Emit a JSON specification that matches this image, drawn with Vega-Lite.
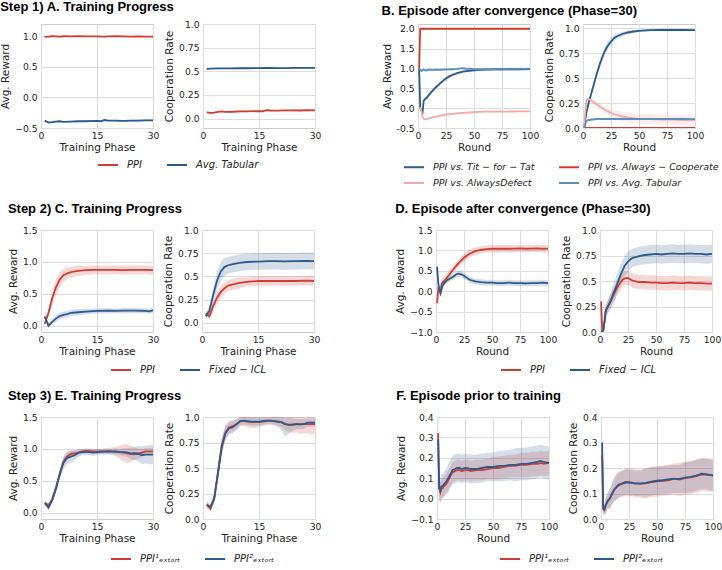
{
"$schema": "https://vega.github.io/schema/vega-lite/v6.json",
"padding": {"left": 0, "top": 0, "right": 0, "bottom": 0},
"datasets": {
"A1": [
{"s":"P","x":1,"y":0.99,"lo":0.98,"hi":1.0},{"s":"P","x":2,"y":0.995,"lo":0.985,"hi":1.005},{"s":"P","x":3,"y":1.0,"lo":0.99,"hi":1.01},{"s":"P","x":4,"y":0.998,"lo":0.988,"hi":1.008},{"s":"P","x":5,"y":0.995,"lo":0.985,"hi":1.005},{"s":"P","x":6,"y":1.0,"lo":0.99,"hi":1.01},{"s":"P","x":8,"y":0.998,"lo":0.988,"hi":1.008},{"s":"P","x":10,"y":1.0,"lo":0.99,"hi":1.01},{"s":"P","x":12,"y":0.998,"lo":0.988,"hi":1.008},{"s":"P","x":15,"y":0.998,"lo":0.988,"hi":1.008},{"s":"P","x":17,"y":0.995,"lo":0.985,"hi":1.005},{"s":"P","x":18,"y":0.998,"lo":0.988,"hi":1.008},{"s":"P","x":20,"y":1.0,"lo":0.99,"hi":1.01},{"s":"P","x":22,"y":0.998,"lo":0.988,"hi":1.008},{"s":"P","x":24,"y":0.995,"lo":0.985,"hi":1.005},{"s":"P","x":26,"y":0.998,"lo":0.988,"hi":1.008},{"s":"P","x":28,"y":0.995,"lo":0.985,"hi":1.005},{"s":"P","x":30,"y":0.995,"lo":0.985,"hi":1.005},
{"s":"T","x":1,"y":-0.38,"lo":-0.392,"hi":-0.368},{"s":"T","x":2,"y":-0.41,"lo":-0.422,"hi":-0.398},{"s":"T","x":3,"y":-0.405,"lo":-0.417,"hi":-0.393},{"s":"T","x":4,"y":-0.395,"lo":-0.407,"hi":-0.383},{"s":"T","x":5,"y":-0.39,"lo":-0.402,"hi":-0.378},{"s":"T","x":6,"y":-0.4,"lo":-0.412,"hi":-0.388},{"s":"T","x":8,"y":-0.395,"lo":-0.407,"hi":-0.383},{"s":"T","x":10,"y":-0.39,"lo":-0.402,"hi":-0.378},{"s":"T","x":12,"y":-0.39,"lo":-0.402,"hi":-0.378},{"s":"T","x":15,"y":-0.385,"lo":-0.397,"hi":-0.373},{"s":"T","x":16,"y":-0.39,"lo":-0.402,"hi":-0.378},{"s":"T","x":17,"y":-0.37,"lo":-0.382,"hi":-0.358},{"s":"T","x":18,"y":-0.38,"lo":-0.392,"hi":-0.368},{"s":"T","x":20,"y":-0.38,"lo":-0.392,"hi":-0.368},{"s":"T","x":22,"y":-0.385,"lo":-0.397,"hi":-0.373},{"s":"T","x":24,"y":-0.38,"lo":-0.392,"hi":-0.368},{"s":"T","x":26,"y":-0.38,"lo":-0.392,"hi":-0.368},{"s":"T","x":28,"y":-0.375,"lo":-0.387,"hi":-0.363},{"s":"T","x":30,"y":-0.375,"lo":-0.387,"hi":-0.363}
],
"A2": [
{"s":"P","x":1,"y":0.065,"lo":0.057,"hi":0.073},{"s":"P","x":2,"y":0.06,"lo":0.052,"hi":0.068},{"s":"P","x":3,"y":0.062,"lo":0.054,"hi":0.07},{"s":"P","x":4,"y":0.07,"lo":0.062,"hi":0.078},{"s":"P","x":5,"y":0.075,"lo":0.067,"hi":0.083},{"s":"P","x":6,"y":0.07,"lo":0.062,"hi":0.078},{"s":"P","x":8,"y":0.072,"lo":0.064,"hi":0.08},{"s":"P","x":10,"y":0.075,"lo":0.067,"hi":0.083},{"s":"P","x":12,"y":0.076,"lo":0.068,"hi":0.084},{"s":"P","x":15,"y":0.078,"lo":0.07,"hi":0.086},{"s":"P","x":16,"y":0.077,"lo":0.069,"hi":0.085},{"s":"P","x":17,"y":0.088,"lo":0.08,"hi":0.096},{"s":"P","x":18,"y":0.085,"lo":0.077,"hi":0.093},{"s":"P","x":20,"y":0.083,"lo":0.075,"hi":0.091},{"s":"P","x":22,"y":0.086,"lo":0.078,"hi":0.094},{"s":"P","x":24,"y":0.086,"lo":0.078,"hi":0.094},{"s":"P","x":26,"y":0.085,"lo":0.077,"hi":0.093},{"s":"P","x":28,"y":0.088,"lo":0.08,"hi":0.096},{"s":"P","x":30,"y":0.087,"lo":0.079,"hi":0.095},
{"s":"T","x":1,"y":0.525,"lo":0.517,"hi":0.533},{"s":"T","x":2,"y":0.528,"lo":0.52,"hi":0.536},{"s":"T","x":4,"y":0.53,"lo":0.522,"hi":0.538},{"s":"T","x":6,"y":0.53,"lo":0.522,"hi":0.538},{"s":"T","x":8,"y":0.531,"lo":0.523,"hi":0.539},{"s":"T","x":10,"y":0.532,"lo":0.524,"hi":0.54},{"s":"T","x":12,"y":0.532,"lo":0.524,"hi":0.54},{"s":"T","x":15,"y":0.533,"lo":0.525,"hi":0.541},{"s":"T","x":17,"y":0.535,"lo":0.527,"hi":0.543},{"s":"T","x":20,"y":0.534,"lo":0.526,"hi":0.542},{"s":"T","x":22,"y":0.533,"lo":0.525,"hi":0.541},{"s":"T","x":24,"y":0.535,"lo":0.527,"hi":0.543},{"s":"T","x":26,"y":0.535,"lo":0.527,"hi":0.543},{"s":"T","x":28,"y":0.536,"lo":0.528,"hi":0.544},{"s":"T","x":30,"y":0.535,"lo":0.527,"hi":0.543}
],
"B1": [
{"s":"T","x":1,"y":1.0,"lo":0.95,"hi":1.05},{"s":"T","x":2,"y":0.0,"lo":-0.05,"hi":0.05},{"s":"T","x":3,"y":-0.05,"lo":-0.1,"hi":0.0},{"s":"T","x":4,"y":-0.15,"lo":-0.2,"hi":-0.1},{"s":"T","x":5,"y":0.18,"lo":0.13,"hi":0.23},{"s":"T","x":6,"y":0.22,"lo":0.17,"hi":0.27},{"s":"T","x":8,"y":0.27,"lo":0.22,"hi":0.32},{"s":"T","x":10,"y":0.34,"lo":0.29,"hi":0.39},{"s":"T","x":12,"y":0.41,"lo":0.36,"hi":0.46},{"s":"T","x":15,"y":0.5,"lo":0.45,"hi":0.55},{"s":"T","x":18,"y":0.58,"lo":0.53,"hi":0.63},{"s":"T","x":20,"y":0.63,"lo":0.58,"hi":0.68},{"s":"T","x":22,"y":0.68,"lo":0.63,"hi":0.73},{"s":"T","x":25,"y":0.75,"lo":0.7,"hi":0.8},{"s":"T","x":28,"y":0.8,"lo":0.76,"hi":0.84},{"s":"T","x":30,"y":0.83,"lo":0.79,"hi":0.87},{"s":"T","x":35,"y":0.88,"lo":0.85,"hi":0.91},{"s":"T","x":40,"y":0.92,"lo":0.89,"hi":0.95},{"s":"T","x":45,"y":0.94,"lo":0.91,"hi":0.97},{"s":"T","x":50,"y":0.955,"lo":0.925,"hi":0.985},{"s":"T","x":55,"y":0.965,"lo":0.935,"hi":0.995},{"s":"T","x":60,"y":0.97,"lo":0.94,"hi":1.0},{"s":"T","x":70,"y":0.975,"lo":0.945,"hi":1.005},{"s":"T","x":80,"y":0.98,"lo":0.95,"hi":1.01},{"s":"T","x":90,"y":0.98,"lo":0.95,"hi":1.01},{"s":"T","x":100,"y":0.985,"lo":0.955,"hi":1.015},
{"s":"C","x":1,"y":1.0,"lo":0.995,"hi":1.005},{"s":"C","x":2,"y":2.0,"lo":1.995,"hi":2.005},{"s":"C","x":25,"y":2.0,"lo":1.995,"hi":2.005},{"s":"C","x":50,"y":2.0,"lo":1.995,"hi":2.005},{"s":"C","x":75,"y":2.0,"lo":1.995,"hi":2.005},{"s":"C","x":100,"y":2.0,"lo":1.995,"hi":2.005},
{"s":"D","x":1,"y":0.0,"lo":-0.02,"hi":0.02},{"s":"D","x":2,"y":0.0,"lo":-0.02,"hi":0.02},{"s":"D","x":3,"y":-0.05,"lo":-0.07,"hi":-0.03},{"s":"D","x":4,"y":-0.22,"lo":-0.24,"hi":-0.2},{"s":"D","x":5,"y":-0.27,"lo":-0.29,"hi":-0.25},{"s":"D","x":6,"y":-0.28,"lo":-0.3,"hi":-0.26},{"s":"D","x":8,"y":-0.27,"lo":-0.29,"hi":-0.25},{"s":"D","x":10,"y":-0.255,"lo":-0.275,"hi":-0.235},{"s":"D","x":12,"y":-0.24,"lo":-0.26,"hi":-0.22},{"s":"D","x":15,"y":-0.22,"lo":-0.24,"hi":-0.2},{"s":"D","x":20,"y":-0.19,"lo":-0.21,"hi":-0.17},{"s":"D","x":25,"y":-0.165,"lo":-0.185,"hi":-0.145},{"s":"D","x":30,"y":-0.145,"lo":-0.165,"hi":-0.125},{"s":"D","x":35,"y":-0.13,"lo":-0.15,"hi":-0.11},{"s":"D","x":40,"y":-0.12,"lo":-0.14,"hi":-0.1},{"s":"D","x":45,"y":-0.11,"lo":-0.13,"hi":-0.09},{"s":"D","x":50,"y":-0.1,"lo":-0.12,"hi":-0.08},{"s":"D","x":60,"y":-0.09,"lo":-0.11,"hi":-0.07},{"s":"D","x":70,"y":-0.085,"lo":-0.105,"hi":-0.065},{"s":"D","x":80,"y":-0.085,"lo":-0.105,"hi":-0.065},{"s":"D","x":90,"y":-0.08,"lo":-0.1,"hi":-0.06},{"s":"D","x":100,"y":-0.08,"lo":-0.1,"hi":-0.06},
{"s":"A","x":1,"y":1.0,"lo":0.97,"hi":1.03},{"s":"A","x":2,"y":0.96,"lo":0.93,"hi":0.99},{"s":"A","x":3,"y":0.94,"lo":0.91,"hi":0.97},{"s":"A","x":5,"y":0.97,"lo":0.94,"hi":1.0},{"s":"A","x":7,"y":0.95,"lo":0.92,"hi":0.98},{"s":"A","x":10,"y":0.97,"lo":0.94,"hi":1.0},{"s":"A","x":13,"y":0.96,"lo":0.93,"hi":0.99},{"s":"A","x":16,"y":0.97,"lo":0.94,"hi":1.0},{"s":"A","x":20,"y":0.965,"lo":0.935,"hi":0.995},{"s":"A","x":25,"y":0.975,"lo":0.945,"hi":1.005},{"s":"A","x":30,"y":0.98,"lo":0.95,"hi":1.01},{"s":"A","x":35,"y":0.99,"lo":0.96,"hi":1.02},{"s":"A","x":38,"y":1.0,"lo":0.97,"hi":1.03},{"s":"A","x":40,"y":1.01,"lo":0.98,"hi":1.04},{"s":"A","x":43,"y":0.99,"lo":0.96,"hi":1.02},{"s":"A","x":46,"y":0.995,"lo":0.965,"hi":1.025},{"s":"A","x":50,"y":0.98,"lo":0.95,"hi":1.01},{"s":"A","x":55,"y":0.985,"lo":0.955,"hi":1.015},{"s":"A","x":60,"y":0.98,"lo":0.95,"hi":1.01},{"s":"A","x":65,"y":0.99,"lo":0.96,"hi":1.02},{"s":"A","x":70,"y":0.985,"lo":0.955,"hi":1.015},{"s":"A","x":75,"y":0.98,"lo":0.95,"hi":1.01},{"s":"A","x":80,"y":0.99,"lo":0.96,"hi":1.02},{"s":"A","x":85,"y":0.985,"lo":0.955,"hi":1.015},{"s":"A","x":90,"y":0.99,"lo":0.96,"hi":1.02},{"s":"A","x":95,"y":0.99,"lo":0.96,"hi":1.02},{"s":"A","x":100,"y":0.995,"lo":0.965,"hi":1.025}
],
"B2": [
{"s":"T","x":1,"y":0.0,"lo":0.0,"hi":0.02},{"s":"T","x":2,"y":0.08,"lo":0.05,"hi":0.11},{"s":"T","x":3,"y":0.15,"lo":0.12,"hi":0.18},{"s":"T","x":5,"y":0.25,"lo":0.22,"hi":0.28},{"s":"T","x":7,"y":0.33,"lo":0.3,"hi":0.36},{"s":"T","x":10,"y":0.45,"lo":0.42,"hi":0.48},{"s":"T","x":12,"y":0.53,"lo":0.5,"hi":0.56},{"s":"T","x":15,"y":0.64,"lo":0.6,"hi":0.68},{"s":"T","x":18,"y":0.73,"lo":0.69,"hi":0.77},{"s":"T","x":20,"y":0.78,"lo":0.74,"hi":0.82},{"s":"T","x":22,"y":0.82,"lo":0.78,"hi":0.86},{"s":"T","x":25,"y":0.865,"lo":0.83,"hi":0.9},{"s":"T","x":28,"y":0.9,"lo":0.87,"hi":0.93},{"s":"T","x":30,"y":0.915,"lo":0.89,"hi":0.94},{"s":"T","x":35,"y":0.94,"lo":0.92,"hi":0.96},{"s":"T","x":40,"y":0.955,"lo":0.935,"hi":0.975},{"s":"T","x":45,"y":0.965,"lo":0.95,"hi":0.98},{"s":"T","x":50,"y":0.972,"lo":0.96,"hi":0.985},{"s":"T","x":60,"y":0.978,"lo":0.968,"hi":0.988},{"s":"T","x":70,"y":0.98,"lo":0.97,"hi":0.99},{"s":"T","x":80,"y":0.98,"lo":0.97,"hi":0.99},{"s":"T","x":90,"y":0.98,"lo":0.97,"hi":0.99},{"s":"T","x":100,"y":0.978,"lo":0.968,"hi":0.988},
{"s":"C","x":1,"y":0.0,"lo":0.0,"hi":0.0},{"s":"C","x":100,"y":0.0,"lo":0.0,"hi":0.0},
{"s":"D","x":1,"y":0.0,"lo":0.0,"hi":0.0},{"s":"D","x":2,"y":0.15,"lo":0.13,"hi":0.17},{"s":"D","x":3,"y":0.27,"lo":0.25,"hi":0.29},{"s":"D","x":4,"y":0.29,"lo":0.27,"hi":0.31},{"s":"D","x":6,"y":0.285,"lo":0.265,"hi":0.305},{"s":"D","x":8,"y":0.27,"lo":0.25,"hi":0.29},{"s":"D","x":10,"y":0.255,"lo":0.23,"hi":0.28},{"s":"D","x":15,"y":0.215,"lo":0.185,"hi":0.245},{"s":"D","x":20,"y":0.18,"lo":0.145,"hi":0.215},{"s":"D","x":25,"y":0.15,"lo":0.11,"hi":0.19},{"s":"D","x":30,"y":0.13,"lo":0.085,"hi":0.175},{"s":"D","x":35,"y":0.115,"lo":0.07,"hi":0.16},{"s":"D","x":40,"y":0.105,"lo":0.055,"hi":0.155},{"s":"D","x":45,"y":0.098,"lo":0.048,"hi":0.148},{"s":"D","x":50,"y":0.092,"lo":0.042,"hi":0.142},{"s":"D","x":60,"y":0.088,"lo":0.038,"hi":0.138},{"s":"D","x":70,"y":0.085,"lo":0.035,"hi":0.135},{"s":"D","x":80,"y":0.083,"lo":0.033,"hi":0.133},{"s":"D","x":90,"y":0.08,"lo":0.03,"hi":0.13},{"s":"D","x":100,"y":0.08,"lo":0.03,"hi":0.13},
{"s":"A","x":1,"y":0.0,"lo":0.0,"hi":0.01},{"s":"A","x":2,"y":0.04,"lo":0.03,"hi":0.05},{"s":"A","x":3,"y":0.07,"lo":0.06,"hi":0.08},{"s":"A","x":5,"y":0.08,"lo":0.07,"hi":0.09},{"s":"A","x":8,"y":0.085,"lo":0.075,"hi":0.095},{"s":"A","x":12,"y":0.09,"lo":0.08,"hi":0.1},{"s":"A","x":20,"y":0.09,"lo":0.08,"hi":0.1},{"s":"A","x":30,"y":0.092,"lo":0.082,"hi":0.102},{"s":"A","x":40,"y":0.09,"lo":0.08,"hi":0.1},{"s":"A","x":50,"y":0.09,"lo":0.08,"hi":0.1},{"s":"A","x":60,"y":0.092,"lo":0.082,"hi":0.102},{"s":"A","x":70,"y":0.09,"lo":0.08,"hi":0.1},{"s":"A","x":80,"y":0.09,"lo":0.08,"hi":0.1},{"s":"A","x":90,"y":0.092,"lo":0.082,"hi":0.102},{"s":"A","x":100,"y":0.088,"lo":0.078,"hi":0.098}
],
"C1": [
{"s":"P","x":1,"y":0.03,"lo":0.0,"hi":0.06},{"s":"P","x":2,"y":0.2,"lo":0.14,"hi":0.26},{"s":"P","x":3,"y":0.43,"lo":0.33,"hi":0.53},{"s":"P","x":4,"y":0.6,"lo":0.48,"hi":0.72},{"s":"P","x":5,"y":0.72,"lo":0.6,"hi":0.84},{"s":"P","x":6,"y":0.79,"lo":0.69,"hi":0.89},{"s":"P","x":7,"y":0.82,"lo":0.73,"hi":0.91},{"s":"P","x":8,"y":0.84,"lo":0.76,"hi":0.92},{"s":"P","x":9,"y":0.85,"lo":0.77,"hi":0.93},{"s":"P","x":10,"y":0.86,"lo":0.78,"hi":0.94},{"s":"P","x":12,"y":0.87,"lo":0.8,"hi":0.94},{"s":"P","x":14,"y":0.875,"lo":0.805,"hi":0.945},{"s":"P","x":16,"y":0.875,"lo":0.805,"hi":0.945},{"s":"P","x":18,"y":0.875,"lo":0.805,"hi":0.945},{"s":"P","x":20,"y":0.875,"lo":0.805,"hi":0.945},{"s":"P","x":22,"y":0.872,"lo":0.802,"hi":0.942},{"s":"P","x":24,"y":0.875,"lo":0.805,"hi":0.945},{"s":"P","x":26,"y":0.875,"lo":0.805,"hi":0.945},{"s":"P","x":28,"y":0.875,"lo":0.805,"hi":0.945},{"s":"P","x":30,"y":0.87,"lo":0.8,"hi":0.94},
{"s":"F","x":1,"y":0.14,"lo":0.04,"hi":0.24},{"s":"F","x":2,"y":0.0,"lo":-0.04,"hi":0.04},{"s":"F","x":3,"y":0.06,"lo":0.02,"hi":0.1},{"s":"F","x":4,"y":0.11,"lo":0.06,"hi":0.16},{"s":"F","x":5,"y":0.15,"lo":0.1,"hi":0.2},{"s":"F","x":6,"y":0.17,"lo":0.12,"hi":0.22},{"s":"F","x":7,"y":0.18,"lo":0.13,"hi":0.23},{"s":"F","x":8,"y":0.2,"lo":0.15,"hi":0.25},{"s":"F","x":10,"y":0.21,"lo":0.16,"hi":0.26},{"s":"F","x":12,"y":0.22,"lo":0.18,"hi":0.26},{"s":"F","x":15,"y":0.23,"lo":0.19,"hi":0.27},{"s":"F","x":18,"y":0.235,"lo":0.195,"hi":0.275},{"s":"F","x":20,"y":0.23,"lo":0.19,"hi":0.27},{"s":"F","x":22,"y":0.235,"lo":0.195,"hi":0.275},{"s":"F","x":25,"y":0.235,"lo":0.195,"hi":0.275},{"s":"F","x":28,"y":0.232,"lo":0.192,"hi":0.272},{"s":"F","x":29,"y":0.225,"lo":0.185,"hi":0.265},{"s":"F","x":30,"y":0.24,"lo":0.2,"hi":0.28}
],
"C2": [
{"s":"P","x":1,"y":0.1,"lo":0.07,"hi":0.13},{"s":"P","x":2,"y":0.07,"lo":0.04,"hi":0.1},{"s":"P","x":3,"y":0.18,"lo":0.13,"hi":0.23},{"s":"P","x":4,"y":0.27,"lo":0.21,"hi":0.33},{"s":"P","x":5,"y":0.33,"lo":0.26,"hi":0.4},{"s":"P","x":6,"y":0.37,"lo":0.31,"hi":0.43},{"s":"P","x":7,"y":0.4,"lo":0.34,"hi":0.46},{"s":"P","x":8,"y":0.41,"lo":0.35,"hi":0.47},{"s":"P","x":10,"y":0.43,"lo":0.37,"hi":0.49},{"s":"P","x":12,"y":0.44,"lo":0.39,"hi":0.49},{"s":"P","x":15,"y":0.45,"lo":0.4,"hi":0.5},{"s":"P","x":18,"y":0.45,"lo":0.4,"hi":0.5},{"s":"P","x":20,"y":0.452,"lo":0.402,"hi":0.502},{"s":"P","x":22,"y":0.45,"lo":0.4,"hi":0.5},{"s":"P","x":25,"y":0.45,"lo":0.4,"hi":0.5},{"s":"P","x":28,"y":0.455,"lo":0.405,"hi":0.505},{"s":"P","x":30,"y":0.45,"lo":0.4,"hi":0.5},
{"s":"F","x":1,"y":0.07,"lo":0.04,"hi":0.1},{"s":"F","x":2,"y":0.13,"lo":0.08,"hi":0.18},{"s":"F","x":3,"y":0.3,"lo":0.22,"hi":0.38},{"s":"F","x":4,"y":0.45,"lo":0.35,"hi":0.55},{"s":"F","x":5,"y":0.55,"lo":0.45,"hi":0.65},{"s":"F","x":6,"y":0.6,"lo":0.5,"hi":0.7},{"s":"F","x":7,"y":0.62,"lo":0.53,"hi":0.71},{"s":"F","x":8,"y":0.63,"lo":0.54,"hi":0.72},{"s":"F","x":10,"y":0.645,"lo":0.555,"hi":0.735},{"s":"F","x":12,"y":0.655,"lo":0.565,"hi":0.745},{"s":"F","x":15,"y":0.66,"lo":0.57,"hi":0.75},{"s":"F","x":18,"y":0.665,"lo":0.575,"hi":0.755},{"s":"F","x":20,"y":0.665,"lo":0.575,"hi":0.755},{"s":"F","x":22,"y":0.662,"lo":0.572,"hi":0.752},{"s":"F","x":25,"y":0.665,"lo":0.575,"hi":0.755},{"s":"F","x":28,"y":0.668,"lo":0.578,"hi":0.758},{"s":"F","x":30,"y":0.665,"lo":0.575,"hi":0.755}
],
"D1": [
{"s":"P","x":1,"y":-0.3,"lo":-0.4,"hi":-0.2},{"s":"P","x":2,"y":0.05,"lo":-0.05,"hi":0.15},{"s":"P","x":3,"y":0.0,"lo":-0.1,"hi":0.1},{"s":"P","x":4,"y":-0.02,"lo":-0.12,"hi":0.08},{"s":"P","x":5,"y":0.18,"lo":0.08,"hi":0.28},{"s":"P","x":6,"y":0.22,"lo":0.12,"hi":0.32},{"s":"P","x":8,"y":0.27,"lo":0.17,"hi":0.37},{"s":"P","x":10,"y":0.34,"lo":0.24,"hi":0.44},{"s":"P","x":12,"y":0.41,"lo":0.31,"hi":0.51},{"s":"P","x":15,"y":0.52,"lo":0.42,"hi":0.62},{"s":"P","x":18,"y":0.62,"lo":0.52,"hi":0.72},{"s":"P","x":20,"y":0.68,"lo":0.58,"hi":0.78},{"s":"P","x":22,"y":0.74,"lo":0.64,"hi":0.84},{"s":"P","x":25,"y":0.82,"lo":0.72,"hi":0.92},{"s":"P","x":28,"y":0.88,"lo":0.78,"hi":0.98},{"s":"P","x":30,"y":0.92,"lo":0.82,"hi":1.02},{"s":"P","x":35,"y":0.98,"lo":0.89,"hi":1.07},{"s":"P","x":40,"y":1.01,"lo":0.92,"hi":1.1},{"s":"P","x":45,"y":1.03,"lo":0.94,"hi":1.12},{"s":"P","x":50,"y":1.04,"lo":0.95,"hi":1.13},{"s":"P","x":55,"y":1.04,"lo":0.95,"hi":1.13},{"s":"P","x":60,"y":1.045,"lo":0.955,"hi":1.135},{"s":"P","x":65,"y":1.04,"lo":0.95,"hi":1.13},{"s":"P","x":70,"y":1.045,"lo":0.955,"hi":1.135},{"s":"P","x":75,"y":1.05,"lo":0.96,"hi":1.14},{"s":"P","x":80,"y":1.04,"lo":0.95,"hi":1.13},{"s":"P","x":85,"y":1.045,"lo":0.955,"hi":1.135},{"s":"P","x":90,"y":1.05,"lo":0.96,"hi":1.14},{"s":"P","x":95,"y":1.04,"lo":0.95,"hi":1.13},{"s":"P","x":100,"y":1.045,"lo":0.955,"hi":1.135},
{"s":"F","x":1,"y":0.6,"lo":0.5,"hi":0.7},{"s":"F","x":2,"y":0.2,"lo":0.1,"hi":0.3},{"s":"F","x":3,"y":0.05,"lo":-0.03,"hi":0.13},{"s":"F","x":4,"y":-0.05,"lo":-0.11,"hi":0.01},{"s":"F","x":5,"y":0.05,"lo":-0.01,"hi":0.11},{"s":"F","x":6,"y":0.15,"lo":0.09,"hi":0.21},{"s":"F","x":8,"y":0.22,"lo":0.16,"hi":0.28},{"s":"F","x":10,"y":0.27,"lo":0.21,"hi":0.33},{"s":"F","x":12,"y":0.3,"lo":0.23,"hi":0.37},{"s":"F","x":15,"y":0.35,"lo":0.28,"hi":0.42},{"s":"F","x":18,"y":0.41,"lo":0.33,"hi":0.49},{"s":"F","x":20,"y":0.43,"lo":0.35,"hi":0.51},{"s":"F","x":22,"y":0.42,"lo":0.34,"hi":0.5},{"s":"F","x":25,"y":0.38,"lo":0.3,"hi":0.46},{"s":"F","x":28,"y":0.32,"lo":0.25,"hi":0.39},{"s":"F","x":30,"y":0.28,"lo":0.21,"hi":0.35},{"s":"F","x":35,"y":0.24,"lo":0.17,"hi":0.31},{"s":"F","x":40,"y":0.22,"lo":0.15,"hi":0.29},{"s":"F","x":45,"y":0.21,"lo":0.14,"hi":0.28},{"s":"F","x":50,"y":0.21,"lo":0.14,"hi":0.28},{"s":"F","x":55,"y":0.2,"lo":0.13,"hi":0.27},{"s":"F","x":60,"y":0.2,"lo":0.13,"hi":0.27},{"s":"F","x":65,"y":0.21,"lo":0.14,"hi":0.28},{"s":"F","x":70,"y":0.2,"lo":0.13,"hi":0.27},{"s":"F","x":75,"y":0.2,"lo":0.13,"hi":0.27},{"s":"F","x":80,"y":0.19,"lo":0.12,"hi":0.26},{"s":"F","x":85,"y":0.2,"lo":0.13,"hi":0.27},{"s":"F","x":90,"y":0.2,"lo":0.13,"hi":0.27},{"s":"F","x":95,"y":0.21,"lo":0.14,"hi":0.28},{"s":"F","x":100,"y":0.2,"lo":0.13,"hi":0.27}
],
"D2": [
{"s":"P","x":1,"y":0.3,"lo":0.28,"hi":0.32},{"s":"P","x":2,"y":0.0,"lo":0.0,"hi":0.02},{"s":"P","x":3,"y":0.02,"lo":0.0,"hi":0.05},{"s":"P","x":4,"y":0.1,"lo":0.05,"hi":0.15},{"s":"P","x":5,"y":0.2,"lo":0.14,"hi":0.26},{"s":"P","x":6,"y":0.23,"lo":0.17,"hi":0.29},{"s":"P","x":8,"y":0.27,"lo":0.2,"hi":0.34},{"s":"P","x":10,"y":0.31,"lo":0.24,"hi":0.38},{"s":"P","x":12,"y":0.36,"lo":0.29,"hi":0.43},{"s":"P","x":15,"y":0.43,"lo":0.36,"hi":0.5},{"s":"P","x":18,"y":0.48,"lo":0.41,"hi":0.55},{"s":"P","x":20,"y":0.51,"lo":0.44,"hi":0.58},{"s":"P","x":22,"y":0.525,"lo":0.455,"hi":0.595},{"s":"P","x":25,"y":0.53,"lo":0.46,"hi":0.6},{"s":"P","x":28,"y":0.51,"lo":0.44,"hi":0.58},{"s":"P","x":30,"y":0.5,"lo":0.43,"hi":0.57},{"s":"P","x":35,"y":0.49,"lo":0.42,"hi":0.56},{"s":"P","x":40,"y":0.49,"lo":0.42,"hi":0.56},{"s":"P","x":45,"y":0.485,"lo":0.415,"hi":0.555},{"s":"P","x":50,"y":0.485,"lo":0.415,"hi":0.555},{"s":"P","x":55,"y":0.48,"lo":0.41,"hi":0.55},{"s":"P","x":60,"y":0.48,"lo":0.41,"hi":0.55},{"s":"P","x":65,"y":0.485,"lo":0.415,"hi":0.555},{"s":"P","x":70,"y":0.48,"lo":0.41,"hi":0.55},{"s":"P","x":75,"y":0.48,"lo":0.41,"hi":0.55},{"s":"P","x":80,"y":0.485,"lo":0.415,"hi":0.555},{"s":"P","x":85,"y":0.48,"lo":0.41,"hi":0.55},{"s":"P","x":90,"y":0.48,"lo":0.41,"hi":0.55},{"s":"P","x":95,"y":0.475,"lo":0.405,"hi":0.545},{"s":"P","x":100,"y":0.475,"lo":0.405,"hi":0.545},
{"s":"F","x":1,"y":0.0,"lo":0.0,"hi":0.02},{"s":"F","x":2,"y":0.0,"lo":0.0,"hi":0.02},{"s":"F","x":3,"y":0.02,"lo":0.0,"hi":0.05},{"s":"F","x":4,"y":0.1,"lo":0.05,"hi":0.15},{"s":"F","x":5,"y":0.2,"lo":0.14,"hi":0.26},{"s":"F","x":6,"y":0.23,"lo":0.17,"hi":0.29},{"s":"F","x":8,"y":0.27,"lo":0.2,"hi":0.34},{"s":"F","x":10,"y":0.32,"lo":0.24,"hi":0.4},{"s":"F","x":12,"y":0.38,"lo":0.29,"hi":0.47},{"s":"F","x":15,"y":0.46,"lo":0.36,"hi":0.56},{"s":"F","x":18,"y":0.55,"lo":0.45,"hi":0.65},{"s":"F","x":20,"y":0.6,"lo":0.5,"hi":0.7},{"s":"F","x":22,"y":0.65,"lo":0.55,"hi":0.75},{"s":"F","x":25,"y":0.69,"lo":0.59,"hi":0.79},{"s":"F","x":28,"y":0.72,"lo":0.63,"hi":0.81},{"s":"F","x":30,"y":0.73,"lo":0.64,"hi":0.82},{"s":"F","x":35,"y":0.745,"lo":0.655,"hi":0.835},{"s":"F","x":40,"y":0.755,"lo":0.665,"hi":0.845},{"s":"F","x":45,"y":0.76,"lo":0.67,"hi":0.85},{"s":"F","x":50,"y":0.765,"lo":0.675,"hi":0.855},{"s":"F","x":55,"y":0.76,"lo":0.67,"hi":0.85},{"s":"F","x":60,"y":0.765,"lo":0.675,"hi":0.855},{"s":"F","x":65,"y":0.77,"lo":0.68,"hi":0.86},{"s":"F","x":70,"y":0.765,"lo":0.675,"hi":0.855},{"s":"F","x":75,"y":0.765,"lo":0.675,"hi":0.855},{"s":"F","x":80,"y":0.77,"lo":0.68,"hi":0.86},{"s":"F","x":85,"y":0.765,"lo":0.675,"hi":0.855},{"s":"F","x":90,"y":0.765,"lo":0.675,"hi":0.855},{"s":"F","x":95,"y":0.76,"lo":0.67,"hi":0.85},{"s":"F","x":100,"y":0.765,"lo":0.675,"hi":0.855}
],
"E1": [
{"s":"1","x":1,"y":0.15,"lo":0.12,"hi":0.18},{"s":"1","x":2,"y":0.12,"lo":0.08,"hi":0.16},{"s":"1","x":3,"y":0.2,"lo":0.15,"hi":0.25},{"s":"1","x":4,"y":0.38,"lo":0.32,"hi":0.44},{"s":"1","x":5,"y":0.6,"lo":0.53,"hi":0.67},{"s":"1","x":6,"y":0.8,"lo":0.73,"hi":0.87},{"s":"1","x":7,"y":0.88,"lo":0.82,"hi":0.94},{"s":"1","x":8,"y":0.92,"lo":0.87,"hi":0.97},{"s":"1","x":9,"y":0.93,"lo":0.88,"hi":0.98},{"s":"1","x":10,"y":0.94,"lo":0.9,"hi":0.98},{"s":"1","x":11,"y":0.96,"lo":0.92,"hi":1.0},{"s":"1","x":12,"y":0.97,"lo":0.93,"hi":1.01},{"s":"1","x":13,"y":0.965,"lo":0.925,"hi":1.005},{"s":"1","x":14,"y":0.96,"lo":0.92,"hi":1.0},{"s":"1","x":15,"y":0.96,"lo":0.92,"hi":1.0},{"s":"1","x":16,"y":0.96,"lo":0.92,"hi":1.0},{"s":"1","x":17,"y":0.962,"lo":0.912,"hi":1.012},{"s":"1","x":18,"y":0.965,"lo":0.915,"hi":1.015},{"s":"1","x":19,"y":0.962,"lo":0.902,"hi":1.022},{"s":"1","x":20,"y":0.96,"lo":0.89,"hi":1.03},{"s":"1","x":21,"y":0.95,"lo":0.85,"hi":1.05},{"s":"1","x":22,"y":0.94,"lo":0.81,"hi":1.07},{"s":"1","x":23,"y":0.93,"lo":0.78,"hi":1.08},{"s":"1","x":24,"y":0.92,"lo":0.79,"hi":1.05},{"s":"1","x":25,"y":0.935,"lo":0.835,"hi":1.035},{"s":"1","x":26,"y":0.92,"lo":0.84,"hi":1.0},{"s":"1","x":27,"y":0.94,"lo":0.88,"hi":1.0},{"s":"1","x":28,"y":0.96,"lo":0.91,"hi":1.01},{"s":"1","x":29,"y":0.96,"lo":0.91,"hi":1.01},{"s":"1","x":30,"y":0.96,"lo":0.91,"hi":1.01},
{"s":"2","x":1,"y":0.15,"lo":0.11,"hi":0.19},{"s":"2","x":2,"y":0.08,"lo":0.03,"hi":0.13},{"s":"2","x":3,"y":0.2,"lo":0.14,"hi":0.26},{"s":"2","x":4,"y":0.38,"lo":0.31,"hi":0.45},{"s":"2","x":5,"y":0.6,"lo":0.52,"hi":0.68},{"s":"2","x":6,"y":0.78,"lo":0.68,"hi":0.88},{"s":"2","x":7,"y":0.86,"lo":0.76,"hi":0.96},{"s":"2","x":8,"y":0.88,"lo":0.78,"hi":0.98},{"s":"2","x":9,"y":0.9,"lo":0.82,"hi":0.98},{"s":"2","x":10,"y":0.94,"lo":0.88,"hi":1.0},{"s":"2","x":11,"y":0.95,"lo":0.9,"hi":1.0},{"s":"2","x":12,"y":0.95,"lo":0.9,"hi":1.0},{"s":"2","x":13,"y":0.95,"lo":0.9,"hi":1.0},{"s":"2","x":14,"y":0.94,"lo":0.89,"hi":0.99},{"s":"2","x":15,"y":0.95,"lo":0.9,"hi":1.0},{"s":"2","x":16,"y":0.955,"lo":0.915,"hi":0.995},{"s":"2","x":17,"y":0.958,"lo":0.918,"hi":0.998},{"s":"2","x":18,"y":0.96,"lo":0.92,"hi":1.0},{"s":"2","x":19,"y":0.958,"lo":0.918,"hi":0.998},{"s":"2","x":20,"y":0.955,"lo":0.905,"hi":1.005},{"s":"2","x":21,"y":0.95,"lo":0.9,"hi":1.0},{"s":"2","x":22,"y":0.95,"lo":0.89,"hi":1.01},{"s":"2","x":23,"y":0.945,"lo":0.875,"hi":1.015},{"s":"2","x":24,"y":0.93,"lo":0.84,"hi":1.02},{"s":"2","x":25,"y":0.92,"lo":0.82,"hi":1.02},{"s":"2","x":26,"y":0.93,"lo":0.81,"hi":1.05},{"s":"2","x":27,"y":0.9,"lo":0.76,"hi":1.04},{"s":"2","x":28,"y":0.91,"lo":0.77,"hi":1.05},{"s":"2","x":29,"y":0.91,"lo":0.76,"hi":1.06},{"s":"2","x":30,"y":0.91,"lo":0.76,"hi":1.06}
],
"E2": [
{"s":"1","x":1,"y":0.14,"lo":0.11,"hi":0.17},{"s":"1","x":2,"y":0.1,"lo":0.07,"hi":0.13},{"s":"1","x":3,"y":0.2,"lo":0.15,"hi":0.25},{"s":"1","x":4,"y":0.45,"lo":0.38,"hi":0.52},{"s":"1","x":5,"y":0.72,"lo":0.64,"hi":0.8},{"s":"1","x":6,"y":0.85,"lo":0.78,"hi":0.92},{"s":"1","x":7,"y":0.9,"lo":0.84,"hi":0.96},{"s":"1","x":8,"y":0.91,"lo":0.85,"hi":0.97},{"s":"1","x":9,"y":0.93,"lo":0.88,"hi":0.98},{"s":"1","x":10,"y":0.96,"lo":0.91,"hi":1.01},{"s":"1","x":11,"y":0.96,"lo":0.91,"hi":1.01},{"s":"1","x":12,"y":0.955,"lo":0.905,"hi":1.005},{"s":"1","x":13,"y":0.95,"lo":0.89,"hi":1.01},{"s":"1","x":14,"y":0.95,"lo":0.89,"hi":1.01},{"s":"1","x":15,"y":0.95,"lo":0.9,"hi":1.0},{"s":"1","x":16,"y":0.955,"lo":0.915,"hi":0.995},{"s":"1","x":17,"y":0.96,"lo":0.92,"hi":1.0},{"s":"1","x":18,"y":0.965,"lo":0.925,"hi":1.005},{"s":"1","x":19,"y":0.96,"lo":0.92,"hi":1.0},{"s":"1","x":20,"y":0.955,"lo":0.915,"hi":0.995},{"s":"1","x":21,"y":0.95,"lo":0.9,"hi":1.0},{"s":"1","x":22,"y":0.93,"lo":0.87,"hi":0.99},{"s":"1","x":23,"y":0.92,"lo":0.85,"hi":0.99},{"s":"1","x":24,"y":0.925,"lo":0.845,"hi":1.005},{"s":"1","x":25,"y":0.93,"lo":0.85,"hi":1.01},{"s":"1","x":26,"y":0.925,"lo":0.835,"hi":1.015},{"s":"1","x":27,"y":0.93,"lo":0.84,"hi":1.02},{"s":"1","x":28,"y":0.93,"lo":0.84,"hi":1.02},{"s":"1","x":29,"y":0.93,"lo":0.83,"hi":1.03},{"s":"1","x":30,"y":0.93,"lo":0.83,"hi":1.03},
{"s":"2","x":1,"y":0.14,"lo":0.11,"hi":0.17},{"s":"2","x":2,"y":0.12,"lo":0.09,"hi":0.15},{"s":"2","x":3,"y":0.2,"lo":0.15,"hi":0.25},{"s":"2","x":4,"y":0.45,"lo":0.38,"hi":0.52},{"s":"2","x":5,"y":0.7,"lo":0.62,"hi":0.78},{"s":"2","x":6,"y":0.84,"lo":0.77,"hi":0.91},{"s":"2","x":7,"y":0.89,"lo":0.83,"hi":0.95},{"s":"2","x":8,"y":0.9,"lo":0.84,"hi":0.96},{"s":"2","x":9,"y":0.93,"lo":0.88,"hi":0.98},{"s":"2","x":10,"y":0.96,"lo":0.92,"hi":1.0},{"s":"2","x":11,"y":0.965,"lo":0.925,"hi":1.005},{"s":"2","x":12,"y":0.96,"lo":0.92,"hi":1.0},{"s":"2","x":13,"y":0.955,"lo":0.915,"hi":0.995},{"s":"2","x":14,"y":0.955,"lo":0.915,"hi":0.995},{"s":"2","x":15,"y":0.955,"lo":0.915,"hi":0.995},{"s":"2","x":16,"y":0.96,"lo":0.92,"hi":1.0},{"s":"2","x":17,"y":0.965,"lo":0.935,"hi":0.995},{"s":"2","x":18,"y":0.965,"lo":0.935,"hi":0.995},{"s":"2","x":19,"y":0.96,"lo":0.92,"hi":1.0},{"s":"2","x":20,"y":0.955,"lo":0.905,"hi":1.005},{"s":"2","x":21,"y":0.95,"lo":0.87,"hi":1.03},{"s":"2","x":22,"y":0.93,"lo":0.81,"hi":1.05},{"s":"2","x":23,"y":0.925,"lo":0.835,"hi":1.015},{"s":"2","x":24,"y":0.925,"lo":0.865,"hi":0.985},{"s":"2","x":25,"y":0.93,"lo":0.88,"hi":0.98},{"s":"2","x":26,"y":0.93,"lo":0.88,"hi":0.98},{"s":"2","x":27,"y":0.93,"lo":0.88,"hi":0.98},{"s":"2","x":28,"y":0.945,"lo":0.905,"hi":0.985},{"s":"2","x":29,"y":0.945,"lo":0.905,"hi":0.985},{"s":"2","x":30,"y":0.945,"lo":0.905,"hi":0.985}
],
"F1": [
{"s":"1","x":1,"y":0.32,"lo":0.24,"hi":0.4},{"s":"1","x":2,"y":0.05,"lo":0.0,"hi":0.1},{"s":"1","x":3,"y":0.03,"lo":-0.02,"hi":0.08},{"s":"1","x":4,"y":0.05,"lo":0.0,"hi":0.1},{"s":"1","x":5,"y":0.05,"lo":0.0,"hi":0.1},{"s":"1","x":6,"y":0.06,"lo":0.01,"hi":0.11},{"s":"1","x":8,"y":0.07,"lo":0.02,"hi":0.12},{"s":"1","x":10,"y":0.09,"lo":0.04,"hi":0.14},{"s":"1","x":12,"y":0.11,"lo":0.06,"hi":0.16},{"s":"1","x":14,"y":0.13,"lo":0.08,"hi":0.18},{"s":"1","x":16,"y":0.135,"lo":0.085,"hi":0.185},{"s":"1","x":18,"y":0.14,"lo":0.09,"hi":0.19},{"s":"1","x":20,"y":0.14,"lo":0.09,"hi":0.19},{"s":"1","x":22,"y":0.135,"lo":0.085,"hi":0.185},{"s":"1","x":25,"y":0.14,"lo":0.09,"hi":0.19},{"s":"1","x":28,"y":0.14,"lo":0.09,"hi":0.19},{"s":"1","x":30,"y":0.135,"lo":0.085,"hi":0.185},{"s":"1","x":35,"y":0.14,"lo":0.09,"hi":0.19},{"s":"1","x":40,"y":0.14,"lo":0.09,"hi":0.19},{"s":"1","x":45,"y":0.145,"lo":0.095,"hi":0.195},{"s":"1","x":50,"y":0.15,"lo":0.095,"hi":0.205},{"s":"1","x":55,"y":0.15,"lo":0.095,"hi":0.205},{"s":"1","x":60,"y":0.155,"lo":0.1,"hi":0.21},{"s":"1","x":65,"y":0.16,"lo":0.105,"hi":0.215},{"s":"1","x":70,"y":0.16,"lo":0.105,"hi":0.215},{"s":"1","x":75,"y":0.165,"lo":0.105,"hi":0.225},{"s":"1","x":80,"y":0.165,"lo":0.105,"hi":0.225},{"s":"1","x":85,"y":0.17,"lo":0.11,"hi":0.23},{"s":"1","x":90,"y":0.17,"lo":0.11,"hi":0.23},{"s":"1","x":93,"y":0.175,"lo":0.115,"hi":0.235},{"s":"1","x":95,"y":0.17,"lo":0.11,"hi":0.23},{"s":"1","x":100,"y":0.175,"lo":0.115,"hi":0.235},
{"s":"2","x":1,"y":0.29,"lo":0.19,"hi":0.39},{"s":"2","x":2,"y":0.05,"lo":-0.01,"hi":0.11},{"s":"2","x":3,"y":0.04,"lo":-0.02,"hi":0.1},{"s":"2","x":4,"y":0.06,"lo":0.0,"hi":0.12},{"s":"2","x":5,"y":0.06,"lo":0.0,"hi":0.12},{"s":"2","x":6,"y":0.07,"lo":0.01,"hi":0.13},{"s":"2","x":8,"y":0.08,"lo":0.02,"hi":0.14},{"s":"2","x":10,"y":0.1,"lo":0.03,"hi":0.17},{"s":"2","x":12,"y":0.12,"lo":0.05,"hi":0.19},{"s":"2","x":14,"y":0.14,"lo":0.07,"hi":0.21},{"s":"2","x":16,"y":0.145,"lo":0.075,"hi":0.215},{"s":"2","x":18,"y":0.15,"lo":0.08,"hi":0.22},{"s":"2","x":20,"y":0.15,"lo":0.08,"hi":0.22},{"s":"2","x":22,"y":0.145,"lo":0.075,"hi":0.215},{"s":"2","x":25,"y":0.15,"lo":0.08,"hi":0.22},{"s":"2","x":28,"y":0.148,"lo":0.078,"hi":0.218},{"s":"2","x":30,"y":0.145,"lo":0.075,"hi":0.215},{"s":"2","x":35,"y":0.145,"lo":0.075,"hi":0.215},{"s":"2","x":40,"y":0.15,"lo":0.08,"hi":0.22},{"s":"2","x":45,"y":0.155,"lo":0.085,"hi":0.225},{"s":"2","x":50,"y":0.155,"lo":0.085,"hi":0.225},{"s":"2","x":55,"y":0.16,"lo":0.085,"hi":0.235},{"s":"2","x":60,"y":0.16,"lo":0.085,"hi":0.235},{"s":"2","x":65,"y":0.165,"lo":0.09,"hi":0.24},{"s":"2","x":70,"y":0.165,"lo":0.085,"hi":0.245},{"s":"2","x":75,"y":0.17,"lo":0.09,"hi":0.25},{"s":"2","x":80,"y":0.17,"lo":0.09,"hi":0.25},{"s":"2","x":85,"y":0.175,"lo":0.095,"hi":0.255},{"s":"2","x":90,"y":0.18,"lo":0.1,"hi":0.26},{"s":"2","x":92,"y":0.185,"lo":0.105,"hi":0.265},{"s":"2","x":95,"y":0.18,"lo":0.1,"hi":0.26},{"s":"2","x":100,"y":0.175,"lo":0.095,"hi":0.255}
],
"F2": [
{"s":"1","x":1,"y":0.25,"lo":0.15,"hi":0.35},{"s":"1","x":2,"y":0.04,"lo":0.02,"hi":0.06},{"s":"1","x":3,"y":0.035,"lo":0.015,"hi":0.055},{"s":"1","x":4,"y":0.05,"lo":0.02,"hi":0.08},{"s":"1","x":5,"y":0.06,"lo":0.03,"hi":0.09},{"s":"1","x":6,"y":0.07,"lo":0.04,"hi":0.1},{"s":"1","x":8,"y":0.08,"lo":0.04,"hi":0.12},{"s":"1","x":10,"y":0.1,"lo":0.06,"hi":0.14},{"s":"1","x":12,"y":0.115,"lo":0.07,"hi":0.16},{"s":"1","x":14,"y":0.125,"lo":0.075,"hi":0.175},{"s":"1","x":16,"y":0.133,"lo":0.083,"hi":0.183},{"s":"1","x":18,"y":0.137,"lo":0.087,"hi":0.187},{"s":"1","x":20,"y":0.14,"lo":0.09,"hi":0.19},{"s":"1","x":22,"y":0.143,"lo":0.088,"hi":0.198},{"s":"1","x":25,"y":0.145,"lo":0.09,"hi":0.2},{"s":"1","x":28,"y":0.143,"lo":0.088,"hi":0.198},{"s":"1","x":30,"y":0.14,"lo":0.085,"hi":0.195},{"s":"1","x":35,"y":0.138,"lo":0.083,"hi":0.193},{"s":"1","x":40,"y":0.14,"lo":0.08,"hi":0.2},{"s":"1","x":45,"y":0.145,"lo":0.085,"hi":0.205},{"s":"1","x":50,"y":0.148,"lo":0.088,"hi":0.208},{"s":"1","x":55,"y":0.15,"lo":0.09,"hi":0.21},{"s":"1","x":60,"y":0.152,"lo":0.092,"hi":0.212},{"s":"1","x":65,"y":0.158,"lo":0.098,"hi":0.218},{"s":"1","x":70,"y":0.155,"lo":0.09,"hi":0.22},{"s":"1","x":75,"y":0.16,"lo":0.095,"hi":0.225},{"s":"1","x":80,"y":0.163,"lo":0.098,"hi":0.228},{"s":"1","x":85,"y":0.168,"lo":0.103,"hi":0.233},{"s":"1","x":90,"y":0.175,"lo":0.11,"hi":0.24},{"s":"1","x":95,"y":0.173,"lo":0.108,"hi":0.238},{"s":"1","x":100,"y":0.172,"lo":0.107,"hi":0.237},
{"s":"2","x":1,"y":0.3,"lo":0.2,"hi":0.4},{"s":"2","x":2,"y":0.04,"lo":0.02,"hi":0.06},{"s":"2","x":3,"y":0.038,"lo":0.018,"hi":0.058},{"s":"2","x":4,"y":0.052,"lo":0.022,"hi":0.082},{"s":"2","x":5,"y":0.062,"lo":0.032,"hi":0.092},{"s":"2","x":6,"y":0.072,"lo":0.042,"hi":0.102},{"s":"2","x":8,"y":0.082,"lo":0.042,"hi":0.122},{"s":"2","x":10,"y":0.1,"lo":0.06,"hi":0.14},{"s":"2","x":12,"y":0.117,"lo":0.072,"hi":0.162},{"s":"2","x":14,"y":0.127,"lo":0.077,"hi":0.177},{"s":"2","x":16,"y":0.135,"lo":0.085,"hi":0.185},{"s":"2","x":18,"y":0.138,"lo":0.088,"hi":0.188},{"s":"2","x":20,"y":0.142,"lo":0.092,"hi":0.192},{"s":"2","x":22,"y":0.145,"lo":0.095,"hi":0.195},{"s":"2","x":25,"y":0.143,"lo":0.093,"hi":0.193},{"s":"2","x":28,"y":0.142,"lo":0.092,"hi":0.192},{"s":"2","x":30,"y":0.14,"lo":0.09,"hi":0.19},{"s":"2","x":35,"y":0.14,"lo":0.09,"hi":0.19},{"s":"2","x":40,"y":0.142,"lo":0.087,"hi":0.197},{"s":"2","x":45,"y":0.147,"lo":0.092,"hi":0.202},{"s":"2","x":50,"y":0.15,"lo":0.095,"hi":0.205},{"s":"2","x":55,"y":0.152,"lo":0.097,"hi":0.207},{"s":"2","x":60,"y":0.155,"lo":0.1,"hi":0.21},{"s":"2","x":65,"y":0.157,"lo":0.102,"hi":0.212},{"s":"2","x":70,"y":0.157,"lo":0.102,"hi":0.212},{"s":"2","x":75,"y":0.162,"lo":0.102,"hi":0.222},{"s":"2","x":80,"y":0.165,"lo":0.105,"hi":0.225},{"s":"2","x":85,"y":0.17,"lo":0.11,"hi":0.23},{"s":"2","x":90,"y":0.178,"lo":0.118,"hi":0.238},{"s":"2","x":95,"y":0.175,"lo":0.115,"hi":0.235},{"s":"2","x":100,"y":0.17,"lo":0.11,"hi":0.23}
]
},
"concat": [
{
"hconcat": [
{
"title": {"text": "Step 1) A. Training Progress", "offset": 6},
"spacing": 50, "bounds": "flush",
"hconcat": [
{"width":112,"height":104,"data":{"name":"A1"},
"encoding":{"x":{"field":"x","type":"quantitative","scale":{"domain":[0,30],"nice":false,"zero":false},"axis":{"values":[0,15,30],"format":"d","title":"Training Phase"}},
"color":{"field":"s","type":"nominal","scale":{"domain":["P","T"],"range":["#cf3e34","#2b5b8a"]},"legend":{"title":null,"orient":"none","legendX":56,"legendY":130,"direction":"horizontal","labelExpr":"datum.label=='P'?'PPI':'Avg. Tabular'"}}},
"layer":[
{"mark":{"type":"area","fillOpacity":0.2,"clip":true},"encoding":{"y":{"field":"lo","type":"quantitative","scale":{"domain":[-0.5,1.2],"nice":false,"zero":false},"axis":{"values":[-0.5,0,0.5,1],"format":".1f","title":"Avg. Reward"}},"y2":{"field":"hi"}}},
{"mark":{"type":"line","strokeWidth":1.8,"clip":true},"encoding":{"y":{"field":"y","type":"quantitative","scale":{"domain":[-0.5,1.2],"nice":false,"zero":false},"axis":{"values":[-0.5,0,0.5,1],"format":".1f","title":"Avg. Reward"}}}}
]},
{"width":112,"height":104,"data":{"name":"A2"},
"encoding":{"x":{"field":"x","type":"quantitative","scale":{"domain":[0,30],"nice":false,"zero":false},"axis":{"values":[0,15,30],"format":"d","title":"Training Phase"}},
"color":{"field":"s","type":"nominal","scale":{"domain":["P","T"],"range":["#cf3e34","#2b5b8a"]},"legend":{"title":null,"orient":"none","legendX":56,"legendY":130,"direction":"horizontal","labelExpr":"datum.label=='P'?'PPI':'Avg. Tabular'"}}},
"layer":[
{"mark":{"type":"area","fillOpacity":0.2,"clip":true},"encoding":{"y":{"field":"lo","type":"quantitative","scale":{"domain":[-0.1,1.0],"nice":false,"zero":false},"axis":{"values":[0,0.25,0.5,0.75,1],"labelExpr":"replace(format(datum.value,'.2f'),/0$/,'')","title":"Cooperation Rate"}},"y2":{"field":"hi"}}},
{"mark":{"type":"line","strokeWidth":1.8,"clip":true},"encoding":{"y":{"field":"y","type":"quantitative","scale":{"domain":[-0.1,1.0],"nice":false,"zero":false},"axis":{"values":[0,0.25,0.5,0.75,1],"labelExpr":"replace(format(datum.value,'.2f'),/0$/,'')","title":"Cooperation Rate"}}}}
]}
]
},
{
"title": {"text": "B. Episode after convergence (Phase=30)", "offset": 6},
"spacing": 53, "bounds": "flush",
"hconcat": [
{"width":112,"height":104,"data":{"name":"B1"},
"encoding":{"x":{"field":"x","type":"quantitative","scale":{"domain":[0,100],"nice":false,"zero":false},"axis":{"values":[0,25,50,75,100],"format":"d","title":"Round"}},
"color":{"field":"s","type":"nominal","scale":{"domain":["T","C","D","A"],"range":["#2b5b8a","#cf3e34","#f0aca4","#5d8fbd"]},"legend":{"title":null,"orient":"none","legendX":-15,"legendY":132,"direction":"horizontal","columns":2,"columnPadding":20,"rowPadding":-4,"labelFontSize":9.5,"labelExpr":"datum.label=='T'?'PPI vs. Tit − for − Tat':datum.label=='C'?'PPI vs. Always − Cooperate':datum.label=='D'?'PPI vs. AlwaysDefect':'PPI vs. Avg. Tabular'"}}},
"layer":[
{"mark":{"type":"area","fillOpacity":0.2,"clip":true},"encoding":{"y":{"field":"lo","type":"quantitative","scale":{"domain":[-0.5,2.12],"nice":false,"zero":false},"axis":{"values":[-0.5,0,0.5,1,1.5,2],"labelExpr":"replace(format(datum.value,'.1f'),'−','-')","title":"Avg. Reward"}},"y2":{"field":"hi"}}},
{"mark":{"type":"line","strokeWidth":1.8,"clip":true},"encoding":{"y":{"field":"y","type":"quantitative","scale":{"domain":[-0.5,2.12],"nice":false,"zero":false},"axis":{"values":[-0.5,0,0.5,1,1.5,2],"labelExpr":"replace(format(datum.value,'.1f'),'−','-')","title":"Avg. Reward"}}}}
]},
{"width":112,"height":104,"data":{"name":"B2"},
"encoding":{"x":{"field":"x","type":"quantitative","scale":{"domain":[0,100],"nice":false,"zero":false},"axis":{"values":[0,25,50,75,100],"format":"d","title":"Round"}},
"color":{"field":"s","type":"nominal","scale":{"domain":["T","C","D","A"],"range":["#2b5b8a","#cf3e34","#f0aca4","#5d8fbd"]},"legend":{"title":null,"orient":"none","legendX":-15,"legendY":132,"direction":"horizontal","columns":2,"columnPadding":20,"rowPadding":-4,"labelFontSize":9.5,"labelExpr":"datum.label=='T'?'PPI vs. Tit − for − Tat':datum.label=='C'?'PPI vs. Always − Cooperate':datum.label=='D'?'PPI vs. AlwaysDefect':'PPI vs. Avg. Tabular'"}}},
"layer":[
{"mark":{"type":"area","fillOpacity":0.2,"clip":true},"encoding":{"y":{"field":"lo","type":"quantitative","scale":{"domain":[0,1.04],"nice":false,"zero":false},"axis":{"values":[0,0.25,0.5,0.75,1],"labelExpr":"replace(format(datum.value,'.2f'),/0$/,'')","title":"Cooperation Rate"}},"y2":{"field":"hi"}}},
{"mark":{"type":"line","strokeWidth":1.8,"clip":true},"encoding":{"y":{"field":"y","type":"quantitative","scale":{"domain":[0,1.04],"nice":false,"zero":false},"axis":{"values":[0,0.25,0.5,0.75,1],"labelExpr":"replace(format(datum.value,'.2f'),/0$/,'')","title":"Cooperation Rate"}}}}
]}
]
}
],
"spacing": 59,
"resolve": {"scale": {"color": "independent"}, "legend": {"color": "independent"}}
},
{
"hconcat": [
{
"title": {"text": "Step 2) C. Training Progress", "offset": 10},
"spacing": 49, "bounds": "flush",
"hconcat": [
{"width":112,"height":102,"data":{"name":"C1"},
"encoding":{"x":{"field":"x","type":"quantitative","scale":{"domain":[0,30],"nice":false,"zero":false},"axis":{"values":[0,15,30],"format":"d","title":"Training Phase"}},
"color":{"field":"s","type":"nominal","scale":{"domain":["P","F"],"range":["#cf3e34","#2b5b8a"]},"legend":{"title":null,"orient":"none","legendX":69,"legendY":129,"direction":"horizontal","labelExpr":"datum.label=='P'?'PPI':'Fixed − ICL'"}}},
"layer":[
{"mark":{"type":"area","fillOpacity":0.2,"clip":true},"encoding":{"y":{"field":"lo","type":"quantitative","scale":{"domain":[-0.1,1.5],"nice":false,"zero":false},"axis":{"values":[0,0.5,1,1.5],"format":".1f","title":"Avg. Reward"}},"y2":{"field":"hi"}}},
{"mark":{"type":"line","strokeWidth":1.8,"clip":true},"encoding":{"y":{"field":"y","type":"quantitative","scale":{"domain":[-0.1,1.5],"nice":false,"zero":false},"axis":{"values":[0,0.5,1,1.5],"format":".1f","title":"Avg. Reward"}}}}
]},
{"width":112,"height":102,"data":{"name":"C2"},
"encoding":{"x":{"field":"x","type":"quantitative","scale":{"domain":[0,30],"nice":false,"zero":false},"axis":{"values":[0,15,30],"format":"d","title":"Training Phase"}},
"color":{"field":"s","type":"nominal","scale":{"domain":["P","F"],"range":["#cf3e34","#2b5b8a"]},"legend":{"title":null,"orient":"none","legendX":69,"legendY":129,"direction":"horizontal","labelExpr":"datum.label=='P'?'PPI':'Fixed − ICL'"}}},
"layer":[
{"mark":{"type":"area","fillOpacity":0.2,"clip":true},"encoding":{"y":{"field":"lo","type":"quantitative","scale":{"domain":[-0.1,1.0],"nice":false,"zero":false},"axis":{"values":[0,0.25,0.5,0.75,1],"labelExpr":"replace(format(datum.value,'.2f'),/0$/,'')","title":"Cooperation Rate"}},"y2":{"field":"hi"}}},
{"mark":{"type":"line","strokeWidth":1.8,"clip":true},"encoding":{"y":{"field":"y","type":"quantitative","scale":{"domain":[-0.1,1.0],"nice":false,"zero":false},"axis":{"values":[0,0.25,0.5,0.75,1],"labelExpr":"replace(format(datum.value,'.2f'),/0$/,'')","title":"Cooperation Rate"}}}}
]}
]
},
{
"title": {"text": "D. Episode after convergence (Phase=30)", "offset": 10},
"spacing": 52, "bounds": "flush",
"hconcat": [
{"width":112,"height":102,"data":{"name":"D1"},
"encoding":{"x":{"field":"x","type":"quantitative","scale":{"domain":[0,100],"nice":false,"zero":false},"axis":{"values":[0,25,50,75,100],"format":"d","title":"Round"}},
"color":{"field":"s","type":"nominal","scale":{"domain":["P","F"],"range":["#cf3e34","#2b5b8a"]},"legend":{"title":null,"orient":"none","legendX":64,"legendY":129,"direction":"horizontal","labelExpr":"datum.label=='P'?'PPI':'Fixed − ICL'"}}},
"layer":[
{"mark":{"type":"area","fillOpacity":0.2,"clip":true},"encoding":{"y":{"field":"lo","type":"quantitative","scale":{"domain":[-1,1.5],"nice":false,"zero":false},"axis":{"values":[-1,-0.5,0,0.5,1,1.5],"format":".1f","title":"Avg. Reward"}},"y2":{"field":"hi"}}},
{"mark":{"type":"line","strokeWidth":1.8,"clip":true},"encoding":{"y":{"field":"y","type":"quantitative","scale":{"domain":[-1,1.5],"nice":false,"zero":false},"axis":{"values":[-1,-0.5,0,0.5,1,1.5],"format":".1f","title":"Avg. Reward"}}}}
]},
{"width":112,"height":102,"data":{"name":"D2"},
"encoding":{"x":{"field":"x","type":"quantitative","scale":{"domain":[0,100],"nice":false,"zero":false},"axis":{"values":[0,25,50,75,100],"format":"d","title":"Round"}},
"color":{"field":"s","type":"nominal","scale":{"domain":["P","F"],"range":["#cf3e34","#2b5b8a"]},"legend":{"title":null,"orient":"none","legendX":64,"legendY":129,"direction":"horizontal","labelExpr":"datum.label=='P'?'PPI':'Fixed − ICL'"}}},
"layer":[
{"mark":{"type":"area","fillOpacity":0.2,"clip":true},"encoding":{"y":{"field":"lo","type":"quantitative","scale":{"domain":[0,1],"nice":false,"zero":false},"axis":{"values":[0,0.25,0.5,0.75,1],"labelExpr":"replace(format(datum.value,'.2f'),/0$/,'')","title":"Cooperation Rate"}},"y2":{"field":"hi"}}},
{"mark":{"type":"line","strokeWidth":1.8,"clip":true},"encoding":{"y":{"field":"y","type":"quantitative","scale":{"domain":[0,1],"nice":false,"zero":false},"axis":{"values":[0,0.25,0.5,0.75,1],"labelExpr":"replace(format(datum.value,'.2f'),/0$/,'')","title":"Cooperation Rate"}}}}
]}
]
}
],
"spacing": 74,
"resolve": {"scale": {"color": "independent"}, "legend": {"color": "independent"}}
},
{
"hconcat": [
{
"title": {"text": "Step 3) E. Training Progress", "offset": 10},
"spacing": 50, "bounds": "flush",
"hconcat": [
{"width":112,"height":102,"data":{"name":"E1"},
"encoding":{"x":{"field":"x","type":"quantitative","scale":{"domain":[0,30],"nice":false,"zero":false},"axis":{"values":[0,15,30],"format":"d","title":"Training Phase"}},
"color":{"field":"s","type":"nominal","scale":{"domain":["1","2"],"range":["#cf3e34","#2b5b8a"]},"legend":{"title":null,"orient":"none","legendX":69,"legendY":131,"direction":"horizontal","labelExpr":"datum.label=='1'?'PPI¹ₑₓₜₒᵣₜ':'PPI²ₑₓₜₒᵣₜ'"}}},
"layer":[
{"mark":{"type":"area","fillOpacity":0.2,"clip":true},"encoding":{"y":{"field":"lo","type":"quantitative","scale":{"domain":[-0.1,1.5],"nice":false,"zero":false},"axis":{"values":[0,0.5,1,1.5],"format":".1f","title":"Avg. Reward"}},"y2":{"field":"hi"}}},
{"mark":{"type":"line","strokeWidth":1.8,"clip":true},"encoding":{"y":{"field":"y","type":"quantitative","scale":{"domain":[-0.1,1.5],"nice":false,"zero":false},"axis":{"values":[0,0.5,1,1.5],"format":".1f","title":"Avg. Reward"}}}}
]},
{"width":112,"height":102,"data":{"name":"E2"},
"encoding":{"x":{"field":"x","type":"quantitative","scale":{"domain":[0,30],"nice":false,"zero":false},"axis":{"values":[0,15,30],"format":"d","title":"Training Phase"}},
"color":{"field":"s","type":"nominal","scale":{"domain":["1","2"],"range":["#cf3e34","#2b5b8a"]},"legend":{"title":null,"orient":"none","legendX":69,"legendY":131,"direction":"horizontal","labelExpr":"datum.label=='1'?'PPI¹ₑₓₜₒᵣₜ':'PPI²ₑₓₜₒᵣₜ'"}}},
"layer":[
{"mark":{"type":"area","fillOpacity":0.2,"clip":true},"encoding":{"y":{"field":"lo","type":"quantitative","scale":{"domain":[0,1],"nice":false,"zero":false},"axis":{"values":[0,0.25,0.5,0.75,1],"labelExpr":"replace(format(datum.value,'.2f'),/0$/,'')","title":"Cooperation Rate"}},"y2":{"field":"hi"}}},
{"mark":{"type":"line","strokeWidth":1.8,"clip":true},"encoding":{"y":{"field":"y","type":"quantitative","scale":{"domain":[0,1],"nice":false,"zero":false},"axis":{"values":[0,0.25,0.5,0.75,1],"labelExpr":"replace(format(datum.value,'.2f'),/0$/,'')","title":"Cooperation Rate"}}}}
]}
]
},
{
"title": {"text": "F. Episode prior to training", "offset": 10},
"spacing": 52, "bounds": "flush",
"hconcat": [
{"width":112,"height":102,"data":{"name":"F1"},
"encoding":{"x":{"field":"x","type":"quantitative","scale":{"domain":[0,100],"nice":false,"zero":false},"axis":{"values":[0,25,50,75,100],"format":"d","title":"Round"}},
"color":{"field":"s","type":"nominal","scale":{"domain":["1","2"],"range":["#cf3e34","#2b5b8a"]},"legend":{"title":null,"orient":"none","legendX":62,"legendY":131,"direction":"horizontal","labelExpr":"datum.label=='1'?'PPI¹ₑₓₜₒᵣₜ':'PPI²ₑₓₜₒᵣₜ'"}}},
"layer":[
{"mark":{"type":"area","fillOpacity":0.2,"clip":true},"encoding":{"y":{"field":"lo","type":"quantitative","scale":{"domain":[-0.1,0.4],"nice":false,"zero":false},"axis":{"values":[-0.1,0,0.1,0.2,0.3,0.4],"format":".1f","title":"Avg. Reward"}},"y2":{"field":"hi"}}},
{"mark":{"type":"line","strokeWidth":1.8,"clip":true},"encoding":{"y":{"field":"y","type":"quantitative","scale":{"domain":[-0.1,0.4],"nice":false,"zero":false},"axis":{"values":[-0.1,0,0.1,0.2,0.3,0.4],"format":".1f","title":"Avg. Reward"}}}}
]},
{"width":112,"height":102,"data":{"name":"F2"},
"encoding":{"x":{"field":"x","type":"quantitative","scale":{"domain":[0,100],"nice":false,"zero":false},"axis":{"values":[0,25,50,75,100],"format":"d","title":"Round"}},
"color":{"field":"s","type":"nominal","scale":{"domain":["1","2"],"range":["#cf3e34","#2b5b8a"]},"legend":{"title":null,"orient":"none","legendX":62,"legendY":131,"direction":"horizontal","labelExpr":"datum.label=='1'?'PPI¹ₑₓₜₒᵣₜ':'PPI²ₑₓₜₒᵣₜ'"}}},
"layer":[
{"mark":{"type":"area","fillOpacity":0.2,"clip":true},"encoding":{"y":{"field":"lo","type":"quantitative","scale":{"domain":[0,0.4],"nice":false,"zero":false},"axis":{"values":[0,0.1,0.2,0.3,0.4],"format":".1f","title":"Cooperation Rate"}},"y2":{"field":"hi"}}},
{"mark":{"type":"line","strokeWidth":1.8,"clip":true},"encoding":{"y":{"field":"y","type":"quantitative","scale":{"domain":[0,0.4],"nice":false,"zero":false},"axis":{"values":[0,0.1,0.2,0.3,0.4],"format":".1f","title":"Cooperation Rate"}}}}
]}
]
}
],
"spacing": 74,
"resolve": {"scale": {"color": "independent"}, "legend": {"color": "independent"}}
}
],
"columns": 1, "align": "none",
"spacing": 14,
"resolve": {"scale": {"color": "independent"}, "legend": {"color": "independent"}},
"config": {
"font": "DejaVu Sans",
"view": {"stroke": "#cccccc", "strokeWidth": 1},
"axis": {"grid": true, "gridColor": "#dddddd", "gridWidth": 1, "domain": false, "ticks": false, "labelFlush": false, "minExtent": 0, "labelFont": "DejaVu Sans", "labelFontSize": 9.2, "labelColor": "#262626", "titleFont": "DejaVu Sans", "titleFontSize": 10.5, "titleFontWeight": "normal", "titleColor": "#262626"},
"axisX": {"labelPadding": 3, "titlePadding": 2, "minExtent": 0},
"axisY": {"labelPadding": 4, "titlePadding": 4, "minExtent": 0},
"legend": {"symbolType": "stroke", "symbolStrokeWidth": 2, "symbolSize": 400, "labelFont": "DejaVu Sans", "labelFontStyle": "italic", "labelFontSize": 10, "labelColor": "#262626", "labelLimit": 400, "columnPadding": 20, "rowPadding": 0, "labelOffset": 8, "padding": 0},
"title": {"font": "Liberation Sans", "fontSize": 13, "fontWeight": "bold", "anchor": "start", "frame": "bounds", "color": "#000000"}
}
}
